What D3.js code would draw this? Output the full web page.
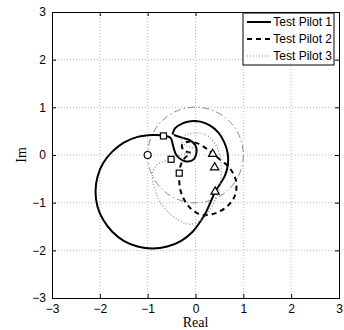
<!DOCTYPE html>
<html>
<head>
<meta charset="utf-8">
<script src="https://cdn.jsdelivr.net/npm/d3@7"></script>
<style>
  body { margin: 0; background: #fff; }
  svg { display: block; }
</style>
</head>
<body>
<div id="wrap"></div>
<script>
// tick values
var xTicks = [-3, -2, -1, 0, 1, 2, 3];
var yTicks = [-3, -2, -1, 0, 1, 2, 3];

// series
var pilot1 = [[-0.48,0.43],[-0.43,0.56],[-0.28,0.66],[-0.1,0.71],[0.1,0.7],[0.3,0.62],[0.48,0.47],[0.6,0.27],
  [0.67,0.05],[0.68,-0.18],[0.62,-0.42],[0.52,-0.6],[0.41,-0.77],[0.32,-0.98],[0.22,-1.2],[0.12,-1.37],
  [-0.06,-1.61],[-0.3,-1.8],[-0.59,-1.92],[-0.9,-1.96],[-1.21,-1.92],[-1.5,-1.8],[-1.74,-1.61],[-1.93,-1.36],
  [-2.05,-1.08],[-2.09,-0.77],[-2.05,-0.46],[-1.93,-0.17],[-1.74,0.07],[-1.5,0.26],[-1.21,0.38],[-0.9,0.42],
  [-0.67,0.41],[-0.52,0.36],[-0.47,0.2],[-0.4,0.0],[-0.22,-0.13],[-0.05,-0.1],[0.02,0.05],[0.0,0.2],
  [-0.12,0.31],[-0.3,0.37],[-0.45,0.42]];
var pilot2 = [[-0.1,0.05],[-0.25,0.1],[-0.28,0.22],[-0.15,0.28],[0.0,0.26],[0.15,0.19],[0.27,0.1],[0.36,0.02],
  [0.52,-0.1],[0.72,-0.28],[0.85,-0.56],[0.82,-0.86],[0.66,-1.08],[0.42,-1.22],[0.15,-1.26],[-0.07,-1.15],
  [-0.23,-0.95],[-0.32,-0.72],[-0.34,-0.45],[-0.32,-0.25],[-0.24,-0.08],[-0.15,0.0]];
var pilot3 = [[-0.05,0.15],[-0.2,0.2],[-0.3,0.3],[-0.2,0.42],[0.0,0.46],[0.22,0.42],[0.4,0.25],[0.5,0.02],
  [0.54,-0.28],[0.52,-0.6],[0.45,-0.85],[0.3,-1.15],[0.1,-1.38],[-0.15,-1.45],[-0.45,-1.3],[-0.7,-1.05],
  [-0.85,-0.72],[-0.9,-0.4],[-0.8,-0.2],[-0.51,-0.09],[-0.3,0.0],[-0.15,0.05]];

// markers
var squares = [[-0.67,0.40],[-0.34,-0.38],[-0.51,-0.09]];
var triangles = [[0.41,-0.77],[0.36,0.02],[0.40,-0.26]];
var critical = [[-1,0]];

var names = ["Test Pilot 1", "Test Pilot 2", "Test Pilot 3"];
var series = [pilot1, pilot2, pilot3];
var colors = ["#000", "#000", "#888"];
var widths = [2, 2, 1.2];
var dashes = [null, "5,4", "1,2"];

var svg = d3.select('#wrap')
  .append('svg')
  .attr("width", 344)
  .attr("height", 330);

var mLeft = 52, mRight = 339, mTop = 12, mBottom = 298;

var x = d3.scaleLinear().domain([-3, 3]).range([mLeft, mRight]);
var y = d3.scaleLinear().domain([-3, 3]).range([mBottom, mTop]);

// grid
svg.append("g")
  .selectAll("line")
  .data(xTicks.slice(1, -1))
  .join("line")
  .attr("x1", d => x(d)).attr("x2", d => x(d))
  .attr("y1", mTop).attr("y2", mBottom)
  .attr("stroke", "#aaa").attr("stroke-width", 0.8)
  .attr("stroke-dasharray", "1,2");

svg.append("g")
  .selectAll("line")
  .data(yTicks.slice(1, -1))
  .join("line")
  .attr("y1", d => y(d)).attr("y2", d => y(d))
  .attr("x1", mLeft).attr("x2", mRight)
  .attr("stroke", "#aaa").attr("stroke-width", 0.8)
  .attr("stroke-dasharray", "1,2");

// axes
var fmt = d => d < 0 ? "\u2212" + Math.abs(d) : String(d);

svg.append("g")
  .attr("transform", "translate(0," + mBottom + ")")
  .call(d3.axisBottom(x).tickValues(xTicks).tickSize(-4).tickPadding(6).tickFormat(fmt));
svg.append("g")
  .attr("transform", "translate(" + mLeft + ",0)")
  .call(d3.axisLeft(y).tickValues(yTicks).tickSize(-4).tickPadding(6).tickFormat(fmt));
svg.append("g")
  .attr("transform", "translate(0," + mTop + ")")
  .call(d3.axisTop(x).tickValues(xTicks).tickSize(-4).tickFormat(""));
svg.append("g")
  .attr("transform", "translate(" + mRight + ",0)")
  .call(d3.axisRight(y).tickValues(yTicks).tickSize(-4).tickFormat(""));

svg.selectAll(".domain").attr("stroke", "#000").attr("stroke-width", 1);
svg.selectAll(".tick line").attr("stroke", "#000");
svg.selectAll(".tick text")
  .attr("font-family", "Liberation Sans, Arial, sans-serif")
  .attr("font-size", "12px")
  .attr("fill", "#000");

// unit circle
svg.append("circle")
  .attr("cx", x(0)).attr("cy", y(0))
  .attr("r", x(1) - x(0))
  .attr("fill", "none")
  .attr("stroke", "#888")
  .attr("stroke-width", 1)
  .attr("stroke-dasharray", "7,3,1.5,3");

// curves
var line = d3.line()
  .x(d => x(d[0]))
  .y(d => y(d[1]))
  .curve(d3.curveCatmullRom.alpha(0.5));

series.forEach(function (s, i) {
  svg.append("path")
    .datum(s)
    .attr("d", line)
    .attr("fill", "none")
    .attr("stroke", colors[i])
    .attr("stroke-width", widths[i])
    .attr("stroke-dasharray", dashes[i]);
});

// markers
svg.append("g").selectAll("rect")
  .data(squares)
  .join("rect")
  .attr("x", d => x(d[0]) - 3).attr("y", d => y(d[1]) - 3)
  .attr("width", 6).attr("height", 6)
  .attr("fill", "#fff").attr("stroke", "#000").attr("stroke-width", 1.2);

var tri = d3.symbol().type(d3.symbolTriangle).size(30);
svg.append("g").selectAll("path")
  .data(triangles)
  .join("path")
  .attr("d", tri)
  .attr("transform", d => "translate(" + x(d[0]) + "," + y(d[1]) + ")")
  .attr("fill", "#fff").attr("stroke", "#000").attr("stroke-width", 1.2);

svg.append("g").selectAll("circle")
  .data(critical)
  .join("circle")
  .attr("cx", d => x(d[0])).attr("cy", d => y(d[1]))
  .attr("r", 3.5)
  .attr("fill", "#fff").attr("stroke", "#000").attr("stroke-width", 1.2);

// axis labels
svg.append("text")
  .attr("x", x(0)).attr("y", 327)
  .attr("text-anchor", "middle")
  .attr("font-family", "Liberation Serif, Times New Roman, serif")
  .attr("font-size", "14px")
  .text("Real");

svg.append("text")
  .attr("transform", "translate(26," + y(0) + ") rotate(-90)")
  .attr("text-anchor", "middle")
  .attr("font-family", "Liberation Serif, Times New Roman, serif")
  .attr("font-size", "14px")
  .text("Im");

// legend
var legend = svg.append("g").attr("transform", "translate(243,13)");
legend.append("rect")
  .attr("width", 91).attr("height", 52)
  .attr("fill", "#fff").attr("stroke", "#000").attr("stroke-width", 1);

names.forEach(function (n, i) {
  var ly = 9 + i * 17;
  legend.append("line")
    .attr("x1", 4).attr("x2", 28)
    .attr("y1", ly).attr("y2", ly)
    .attr("stroke", colors[i])
    .attr("stroke-width", widths[i])
    .attr("stroke-dasharray", dashes[i]);
  legend.append("text")
    .attr("x", 89).attr("y", ly + 4)
    .attr("text-anchor", "end")
    .attr("font-family", "Liberation Sans, Arial, sans-serif")
    .attr("font-size", "12px")
    .text(n);
});
</script>
</body>
</html>
